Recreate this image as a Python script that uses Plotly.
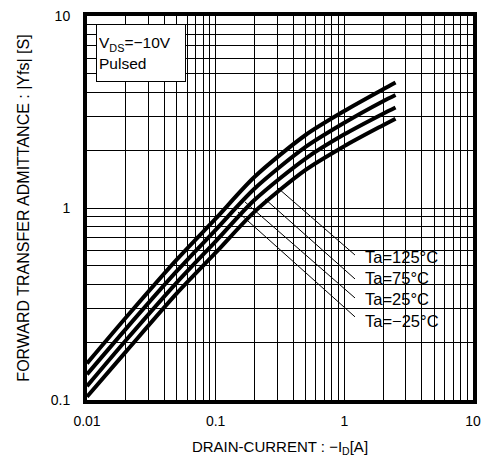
import plotly.graph_objects as go

# ---- data ----
drain_current = [0.01, 0.02, 0.05, 0.1, 0.2, 0.5, 1.0, 2.0, 2.5]
yfs_125 = [0.155, 0.268, 0.54, 0.88, 1.45, 2.40, 3.20, 4.15, 4.50]
yfs_75 = [0.136, 0.234, 0.47, 0.77, 1.26, 2.08, 2.78, 3.60, 3.88]
yfs_25 = [0.118, 0.204, 0.41, 0.67, 1.10, 1.81, 2.42, 3.10, 3.34]
yfs_m25 = [0.104, 0.178, 0.36, 0.585, 0.955, 1.58, 2.10, 2.70, 2.92]
series_names = ["Ta=125°C", "Ta=75°C", "Ta=25°C", "Ta=\u221225°C"]

x_tickvals = [0.01, 0.1, 1, 10]
x_ticktext = ["0.01", "0.1", "1", "10"]
y_tickvals = [0.1, 1, 10]
y_ticktext = ["0.1", "1", "10"]

# leader lines: start on the curve bundle, end at label
leader_start_x = [0.305, 0.242, 0.169, 0.149]
leader_start_y = [1.27, 1.114, 1.075, 0.953]
leader_end_x = [1.21, 1.21, 1.21, 1.21]
leader_end_y = [0.569, 0.427, 0.340, 0.271]

FONT = "Liberation Sans, Arial, sans-serif"

fig = go.Figure()

# leader lines (under curves)
for i in range(4):
    fig.add_trace(go.Scatter(
        x=[leader_start_x[i], leader_end_x[i]],
        y=[leader_start_y[i], leader_end_y[i]],
        mode="lines", line=dict(color="black", width=1),
        showlegend=False, hoverinfo="skip"))

for name, ys in zip(series_names, [yfs_125, yfs_75, yfs_25, yfs_m25]):
    fig.add_trace(go.Scatter(
        x=drain_current, y=ys, mode="lines", name=name,
        line=dict(color="black", width=4, shape="spline", smoothing=0.8),
        showlegend=False))

# white box behind the temperature labels
fig.add_shape(type="rect", xref="paper", yref="paper",
              x0=0.699, x1=0.953, y0=0.190, y1=0.430,
              fillcolor="white", line=dict(width=0), layer="below")

label_y_paper = [0.372, 0.318, 0.263, 0.206]
for name, yp in zip(series_names, label_y_paper):
    fig.add_annotation(text=name, xref="paper", yref="paper",
                       x=0.716, y=yp, xanchor="left", yanchor="middle",
                       showarrow=False, font=dict(family=FONT, size=16.5, color="black"))

fig.add_annotation(text="V<sub>DS</sub>=\u221210V<br>Pulsed", xref="paper", yref="paper",
                   x=0.024, y=0.979, xanchor="left", yanchor="top", align="left",
                   showarrow=False, bgcolor="white", bordercolor="black", borderwidth=1,
                   width=84, height=52, borderpad=2,
                   font=dict(family=FONT, size=15.5, color="black"))

grid = dict(showgrid=True, gridcolor="black", gridwidth=1)

fig.update_xaxes(type="log", range=[-2, 1], tickvals=x_tickvals, ticktext=x_ticktext,
                 showline=True, linewidth=4, linecolor="black", mirror=True,
                 ticks="", ticklabelstandoff=5, ticklabeloverflow="allow", zeroline=False,
                 minor=dict(dtick="D1", showgrid=True, gridcolor="black", gridwidth=1, ticks=""),
                 title=dict(text="DRAIN-CURRENT : \u2212I<sub>D</sub>[A]", standoff=15,
                            font=dict(family=FONT, size=15, color="black")),
                 tickfont=dict(family=FONT, size=14, color="black"), **grid)
fig.update_yaxes(type="log", range=[-1, 1], tickvals=y_tickvals, ticktext=y_ticktext,
                 showline=True, linewidth=4, linecolor="black", mirror=True,
                 ticks="", ticklabelstandoff=10, ticklabeloverflow="allow", zeroline=False,
                 minor=dict(dtick="D1", showgrid=True, gridcolor="black", gridwidth=1, ticks=""),
                 title=dict(text="FORWARD TRANSFER ADMITTANCE : |Yfs| [S]", standoff=18,
                            font=dict(family=FONT, size=16, color="black")),
                 tickfont=dict(family=FONT, size=14, color="black"), **grid)

fig.update_layout(width=483, height=462,
                  margin=dict(l=87, r=10, t=16, b=62, autoexpand=False),
                  paper_bgcolor="white", plot_bgcolor="white",
                  hovermode=False,
                  font=dict(family=FONT, color="black"))

# remove the default page margin so the figure fills the window exactly
fig.write_html("out.html",
               config={"displayModeBar": False, "staticPlot": True},
               post_script="document.body.style.margin='0';document.body.style.overflow='hidden';")
